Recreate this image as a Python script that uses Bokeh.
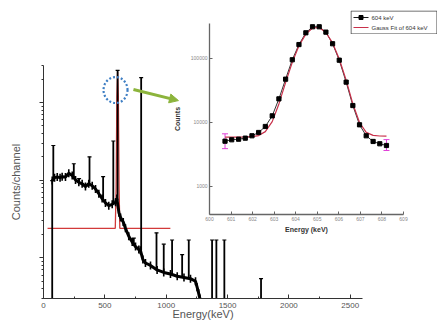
import numpy as np
from bokeh.plotting import figure
from bokeh.models import (ColumnDataSource, Range1d, FixedTicker, SingleIntervalTicker,
                          Arrow, NormalHead, Whisker, TeeHead,
                          NumeralTickFormatter, CustomJSTickFormatter)
from bokeh.core.properties import value
from bokeh.embed import file_html
from bokeh.resources import INLINE

FONT = "Liberation Sans"

# ---------------- main spectrum data ----------------
cont_energy = [71, 90, 112, 135, 152, 179, 206, 234, 261, 288, 315, 342, 369, 397, 424,
               451, 478, 505, 532, 560, 587, 598, 615, 628, 650, 668, 695, 723, 750, 777,
               790, 810, 831, 872, 926, 980, 1035, 1090, 1145, 1198, 1239, 1252, 1265, 1275]
cont_counts = [99, 108, 110, 108, 111, 110, 123, 115, 101, 94, 90, 83, 90, 85, 77,
               67, 58, 51, 47, 49, 52, 58, 38, 33, 29, 24, 19, 16, 14, 12.8,
               12.5, 9.5, 8.6, 8.0, 7.0, 6.5, 6.2, 5.8, 5.6, 5.4, 5.0, 4.2, 3.5, 3.0]

peak_energy = [71, 80, 247, 290, 375, 486, 569, 604, 736, 796, 921, 980, 1048, 1130,
               1184, 1374, 1409, 1474, 1773]
peak_low = [3, 99, 108, 94, 88, 56, 50, 55, 15, 12.5, 7, 6.5, 6, 5.6, 5.5, 3, 3, 3, 3]
peak_high = [99, 280, 163, 105, 200, 111, 320, 2600, 18, 2100, 21, 15, 17, 11, 17,
             17, 17, 17, 5.4]

fit_main_energy = [33, 585, 592, 598, 604, 610, 616, 622, 1034]
fit_main_counts = [24, 24, 80, 1200, 2500, 1200, 80, 24, 24]

main_xticks = [0, 500, 1000, 1500, 2000, 2500]

# annotation anchors (energy, counts)
circle_center = (587, 1450)
arrow_start = (733, 1470)
arrow_end = (1100, 1060)

# ---------------- inset data ----------------
inset_energy = [600.72, 601.03, 601.35, 601.66, 601.97, 602.28, 602.59, 602.91, 603.22,
                603.53, 603.84, 604.15, 604.47, 604.78, 605.09, 605.40, 605.71, 606.02,
                606.34, 606.65, 606.96, 607.27, 607.59, 607.90, 608.21]
inset_counts = [5100, 5370, 5480, 5690, 6200, 6980, 8660, 12700, 23400, 47500, 95500,
                165000, 252000, 313000, 313000, 258000, 170000, 94000, 42700, 18400,
                9200, 6200, 5050, 4650, 4370]
inset_fit = [5900, 5900, 5910, 5930, 6000, 6250, 7200, 10300, 19500, 42000, 87000,
             158000, 240000, 300000, 305000, 255000, 175000, 98000, 46000, 19500,
             10000, 7000, 6300, 6150, 6100]
err_energy = [600.72, 608.21]
err_low = [3900, 3650]
err_high = [6650, 5400]

inset_xticks = [600, 601, 602, 603, 604, 605, 606, 607, 608, 609]
inset_yticks = [1000, 10000, 100000]

legend_labels = ["604 keV", "Gauss Fit of 604 keV"]

# ================= main figure =================
p = figure(width=438, height=335, x_range=Range1d(0, 2600), y_range=Range1d(3, 3000),
           y_axis_type="log", output_backend="svg", toolbar_location=None,
           min_border_left=43, min_border_right=76, min_border_top=65, min_border_bottom=37)
p.outline_line_color = None
p.grid.visible = False
p.background_fill_color = "white"
p.border_fill_color = "white"

p.xaxis.ticker = SingleIntervalTicker(interval=500, num_minor_ticks=2)
p.xaxis.major_tick_in = 4
p.xaxis.major_tick_out = 0
p.xaxis.minor_tick_in = 2
p.xaxis.minor_tick_out = 0
p.xaxis.major_label_standoff = 4
p.xaxis.axis_label = "Energy(keV)"
p.xaxis.axis_label_standoff = -3

p.yaxis.major_tick_in = 0
p.yaxis.major_tick_out = 4
p.yaxis.minor_tick_in = 0
p.yaxis.minor_tick_out = 2
p.yaxis.formatter = CustomJSTickFormatter(code="return ''")
p.yaxis.major_label_standoff = 0
p.yaxis.axis_label = "Counts/channel"
p.yaxis.axis_label_standoff = 18

for ax in (p.xaxis[0], p.yaxis[0]):
    ax.axis_line_color = "#333333"
    ax.major_tick_line_color = "#333333"
    ax.minor_tick_line_color = "#333333"
    ax.major_label_text_font = FONT
    ax.major_label_text_font_size = "8px"
    ax.major_label_text_color = "#555555"
    ax.axis_label_text_font = FONT
    ax.axis_label_text_font_size = "11px"
    ax.axis_label_text_font_style = "normal"
    ax.axis_label_text_color = "#555555"

# red fit on the main spectrum
p.line(fit_main_energy, fit_main_counts, color="#d23a3a", line_width=1.3)

# continuum
p.line(cont_energy, cont_counts, color="black", line_width=3)
p.scatter(cont_energy, cont_counts, marker="dash", angle=np.pi / 2, size=8,
          line_color="black", line_width=1.6)

# peaks
p.segment(x0=peak_energy, y0=peak_low, x1=peak_energy, y1=peak_high,
          line_color="black", line_width=1.8)
p.scatter(peak_energy, peak_high, marker="dash", size=4, line_color="black", line_width=1.2)

# dotted blue circle
p.ellipse(x=[circle_center[0]], y=[circle_center[1]], width=24, height=26,
          width_units="screen", height_units="screen", fill_color=None,
          line_color="#3f7fc4", line_width=2.2, line_dash="2 2")

# green arrow
green = "#8cb43c"
p.add_layout(Arrow(x_start=arrow_start[0], y_start=arrow_start[1],
                   x_end=arrow_end[0], y_end=arrow_end[1],
                   line_color=green, line_width=3,
                   end=NormalHead(size=9, fill_color=green, line_color=green)))

# ================= inset figure =================
q = figure(width=268, height=240, x_range=Range1d(600, 609), y_range=Range1d(365, 352000),
           y_axis_type="log", output_backend="svg", toolbar_location=None,
           min_border_left=33, min_border_right=35, min_border_top=23, min_border_bottom=26)
q.outline_line_color = None
q.grid.visible = False
q.background_fill_color = None
q.border_fill_color = None
q.styles = {"position": "absolute", "left": "170px", "top": "0px"}

q.xaxis.ticker = FixedTicker(ticks=inset_xticks, minor_ticks=[])
q.yaxis.ticker = FixedTicker(ticks=inset_yticks, minor_ticks=[])
q.yaxis.formatter = NumeralTickFormatter(format="0")
q.xaxis.axis_label = "Energy (keV)"
q.yaxis.axis_label = "Counts"
for ax in (q.xaxis[0], q.yaxis[0]):
    ax.axis_line_color = "#666666"
    ax.axis_line_width = 1.3
    ax.major_tick_line_color = "#666666"
    ax.major_tick_in = 3
    ax.major_tick_out = 0
    ax.major_label_standoff = 2
    ax.major_label_text_font = FONT
    ax.major_label_text_font_size = "5px"
    ax.major_label_text_color = "#888888"
    ax.axis_label_text_font = FONT
    ax.axis_label_text_font_size = "7px"
    ax.axis_label_text_font_style = "bold"
    ax.axis_label_text_color = "#333333"
    ax.axis_label_standoff = 2
q.yaxis.axis_label_standoff = 7

src = ColumnDataSource(dict(x=err_energy, lo=err_low, hi=err_high))
magenta = "#e040d8"
q.add_layout(Whisker(source=src, base="x", lower="lo", upper="hi", line_color=magenta,
                     line_width=1,
                     upper_head=TeeHead(size=6, line_color=magenta),
                     lower_head=TeeHead(size=6, line_color=magenta)))

q.line(inset_energy, inset_counts, color="black", line_width=0.8)
q.line(inset_energy, inset_fit, color="#c8304a", line_width=1.2)
q.scatter(inset_energy, inset_counts, marker="square", size=4.2,
          fill_color="black", line_color="black")

# ================= legend box (separate small canvas) =================
LW, LH = 87, 24
r = figure(width=LW, height=LH, x_range=Range1d(0, LW), y_range=Range1d(0, LH),
           output_backend="svg", toolbar_location=None, min_border=0)
r.axis.visible = False
r.grid.visible = False
r.outline_line_color = None
r.background_fill_color = "white"
r.border_fill_color = None
r.styles = {"position": "absolute", "left": "350px", "top": "10px"}
r.quad(left=[0.5], right=[LW - 0.5], bottom=[0.5], top=[LH - 0.5],
       fill_color="white", line_color="#444444", line_width=1)
row_y = [17, 7]
r.segment(x0=[3, 3], y0=row_y, x1=[18, 18], y1=row_y,
          line_color=["black", "#c8304a"], line_width=[0.9, 1.2])
r.scatter([10.5], [row_y[0]], marker="square", size=4,
          fill_color="black", line_color="black")
r.text(x=[21, 21], y=row_y, text=legend_labels, text_font=value(FONT),
       text_font_size="6px", text_baseline="middle", text_color="#333333")

open("out.html", "w").write(file_html([p, q, r], INLINE))
